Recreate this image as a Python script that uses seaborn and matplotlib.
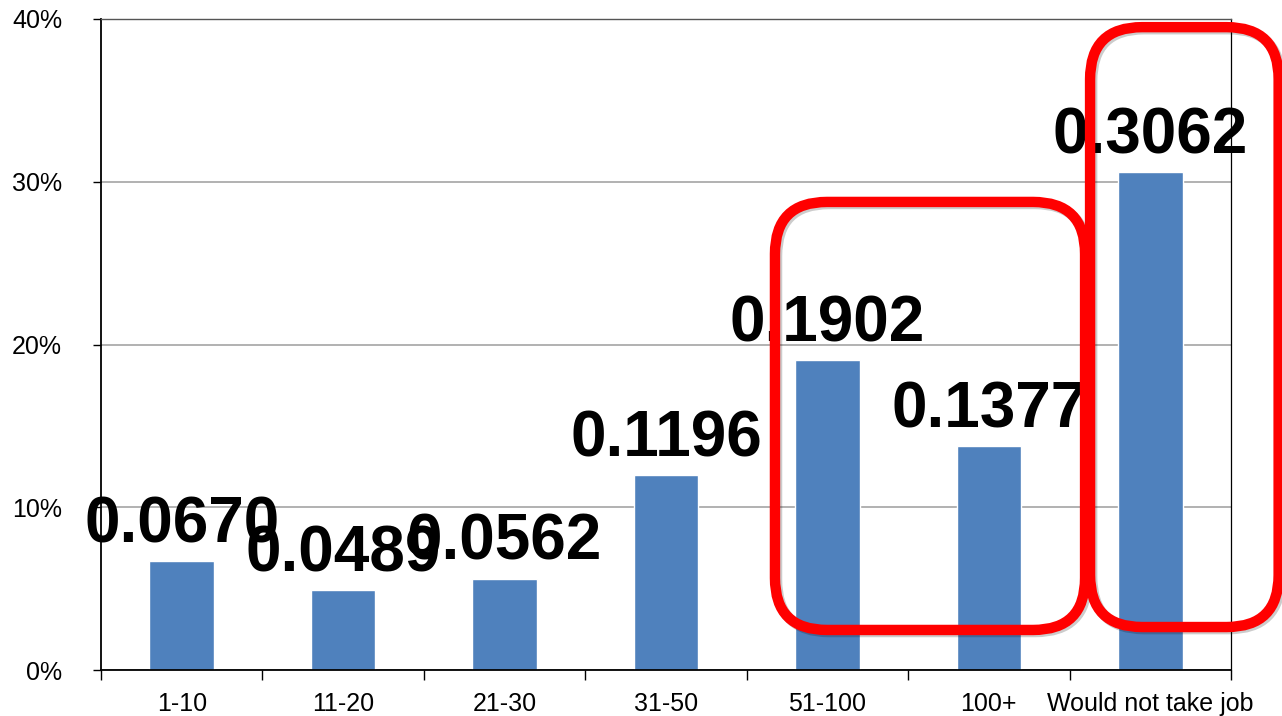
import matplotlib

matplotlib.use("Agg")
import matplotlib.patheffects as pe
import matplotlib.pyplot as plt
import numpy as np
import seaborn as sns
from matplotlib.patches import FancyBboxPatch
from matplotlib.ticker import FixedLocator, PercentFormatter
from matplotlib.transforms import IdentityTransform

# Данные графика
categories = ["1-10", "11-20", "21-30", "31-50", "51-100", "100+", "Would not take job"]
shares = [0.0670, 0.0489, 0.0562, 0.1196, 0.1902, 0.1377, 0.3062]

# Красные рамки-выделения (в координатах данных: x0, y0, x1, y1)
highlight_boxes = [
    (3.675, 0.0246, 5.596, 0.2876),
    (5.627, 0.0264, 6.795, 0.3950),
]

BAR_COLOR = "#4F81BD"


def main():
    sns.set_theme(style="white")
    plt.rcParams["font.family"] = ["Liberation Sans", "DejaVu Sans"]

    fig = plt.figure(figsize=(12.82, 7.16), dpi=100)
    ax = fig.add_axes([101 / 1282, 1 - 670 / 716, 1130 / 1282, 651 / 716])

    sns.barplot(x=categories, y=shares, color=BAR_COLOR, saturation=1, width=0.4, ax=ax, zorder=2)

    ax.set_xlim(-0.5, len(categories) - 0.5)
    ax.set_ylim(0, 0.4)

    # Подписи значений над столбцами
    ax.bar_label(
        ax.containers[0],
        labels=[f"{v:.4f}" for v in shares],
        padding=4,
        fontsize=46,
        fontweight="bold",
        color="black",
        zorder=5,
    )

    # Оси в стиле Excel: засечки на границах категорий
    ax.xaxis.set_major_locator(FixedLocator(np.arange(-0.5, len(categories), 1)))
    ax.xaxis.set_minor_locator(FixedLocator(np.arange(len(categories))))
    ax.set_xticklabels([], minor=False)
    ax.set_xticklabels(categories, minor=True)
    ax.tick_params(axis="x", which="major", direction="out", length=7, width=1, color="black", bottom=True)
    ax.tick_params(axis="x", which="minor", length=0, pad=16, labelsize=18, labelcolor="black")

    ax.yaxis.set_major_locator(FixedLocator([0, 0.1, 0.2, 0.3, 0.4]))
    ax.yaxis.set_major_formatter(PercentFormatter(1.0, decimals=0))
    ax.tick_params(axis="y", direction="out", length=6, width=1, color="black", left=True, pad=22, labelsize=18, labelcolor="black")
    ax.set_xlabel("")
    ax.set_ylabel("")

    ax.grid(axis="y", color="#ABABAB", linewidth=1.3, zorder=0)
    ax.set_axisbelow(True)

    for side in ["left", "bottom"]:
        ax.spines[side].set_color("black")
        ax.spines[side].set_linewidth(1.3)
    ax.spines["right"].set_color("black")
    ax.spines["right"].set_linewidth(0.9)
    ax.spines["top"].set_color("#555555")
    ax.spines["top"].set_linewidth(1.0)

    # Рамки рисуем в пикселях, чтобы скругления были круглыми
    for x0, y0, x1, y1 in highlight_boxes:
        (px0, py0), (px1, py1) = ax.transData.transform([(x0, y0), (x1, y1)])
        box = FancyBboxPatch(
            (px0, py0),
            px1 - px0,
            py1 - py0,
            boxstyle="round,pad=0,rounding_size=52",
            facecolor="none",
            edgecolor="#FF0000",
            linewidth=7.5,
            transform=IdentityTransform(),
            zorder=10,
            path_effects=[
                pe.SimpleLineShadow(offset=(1.5, -1.5), shadow_color="black", alpha=0.2),
                pe.Normal(),
            ],
        )
        fig.add_artist(box)

    fig.savefig("out.png", dpi=100)
    plt.close(fig)


if __name__ == "__main__":
    main()
